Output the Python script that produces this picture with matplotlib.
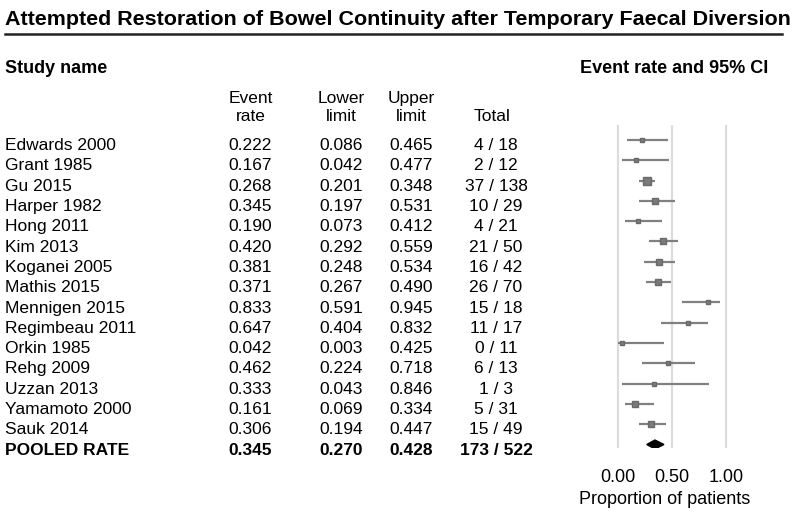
import matplotlib
matplotlib.use("Agg")
import matplotlib.pyplot as plt
import matplotlib.transforms as mtransforms
import numpy as np

plt.rcParams['font.family'] = ['Liberation Sans', 'DejaVu Sans']

# data
studies = ["Edwards 2000", "Grant 1985", "Gu 2015", "Harper 1982", "Hong 2011",
           "Kim 2013", "Koganei 2005", "Mathis 2015", "Mennigen 2015",
           "Regimbeau 2011", "Orkin 1985", "Rehg 2009", "Uzzan 2013",
           "Yamamoto 2000", "Sauk 2014"]
rate = [0.222, 0.167, 0.268, 0.345, 0.190, 0.420, 0.381, 0.371, 0.833,
        0.647, 0.042, 0.462, 0.333, 0.161, 0.306]
lower = [0.086, 0.042, 0.201, 0.197, 0.073, 0.292, 0.248, 0.267, 0.591,
         0.404, 0.003, 0.224, 0.043, 0.069, 0.194]
upper = [0.465, 0.477, 0.348, 0.531, 0.412, 0.559, 0.534, 0.490, 0.945,
         0.832, 0.425, 0.718, 0.846, 0.334, 0.447]
events = [4, 2, 37, 10, 4, 21, 16, 26, 15, 11, 0, 6, 1, 5, 15]
totals = [18, 12, 138, 29, 21, 50, 42, 70, 18, 17, 11, 13, 3, 31, 49]

pooled_name = "POOLED RATE"
pooled_rate, pooled_lower, pooled_upper = 0.345, 0.270, 0.428
pooled_events, pooled_total = 173, 522

ticks = [0.0, 0.5, 1.0]
tick_labels = ["0.00", "0.50", "1.00"]

W, H = 800, 514
fig = plt.figure(figsize=(W / 100, H / 100), dpi=100)


def fx(px):
    return px / W


def fy(py):
    return 1 - py / H


# forest panel, pixel geometry: 0 -> 617.5, 1 -> 726
x0, unit = 617.5, 108.5
ax_l, ax_r, ax_t, ax_b = 595, 749, 125, 448
row0, step = 140, 20.3
ax = fig.add_axes([fx(ax_l), fy(ax_b), (ax_r - ax_l) / W, (ax_b - ax_t) / H])
ax.set_xlim((ax_l - x0) / unit, (ax_r - x0) / unit)
ax.set_ylim((ax_b - row0) / step, (ax_t - row0) / step)
for s in ax.spines.values():
    s.set_visible(False)
ax.set_yticks([])
for t in ticks:
    ax.axvline(t, color="#dcdcdc", lw=1.6, zorder=0)
ax.set_xticks(ticks)
ax.set_xticklabels(tick_labels, fontsize=13)
ax.tick_params(axis="x", length=0, pad=15)

n = len(studies)
ys = np.arange(n)
tot = np.array(totals)
msize = (3.0 + 4.5 * np.sqrt(tot / tot.max())) * 0.72
ax.hlines(ys, lower, upper, color="#808080", lw=1.6, zorder=2)
for y, r, m in zip(ys, rate, msize):
    ax.plot(r, y, marker="s", ms=m, color="#7a7a7a", mec="#6a6a6a", zorder=3)

# pooled diamond
yp = n
dh = 0.22
ax.fill([pooled_lower, pooled_rate, pooled_upper, pooled_rate],
        [yp, yp - dh, yp, yp + dh], color="black", zorder=3)

fig.text(fx(665), fy(504), "Proportion of patients", fontsize=13,
         ha="center", va="baseline")

# title and underline
fig.text(fx(5), fy(25), "Attempted Restoration of Bowel Continuity after Temporary Faecal Diversion",
         fontsize=15.45, fontweight="bold", ha="left", va="baseline")
fig.add_artist(plt.Line2D([fx(5), fx(782)], [fy(34), fy(34)], color="#222222", lw=1.8))

fig.text(fx(5), fy(73), "Study name", fontsize=13, fontweight="bold",
         ha="left", va="baseline")
fig.text(fx(768), fy(73), "Event rate and 95% CI", fontsize=13,
         fontweight="bold", ha="right", va="baseline")

# column headers
col_x = {"rate": 250, "lower": 340, "upper": 410, "total": 495}
hdr = [("rate", "Event", "rate"), ("lower", "Lower", "limit"),
       ("upper", "Upper", "limit")]
for key, a, b in hdr:
    fig.text(fx(col_x[key] + 1), fy(103), a, fontsize=12.5, ha="center", va="baseline")
    fig.text(fx(col_x[key] + 1), fy(121), b, fontsize=12.5, ha="center", va="baseline")
fig.text(fx(col_x["total"] - 3), fy(121), "Total", fontsize=12.5, ha="center", va="baseline")

# table rows, y in forest data coords
tf = mtransforms.blended_transform_factory(fig.transFigure, ax.transData)
off = 0.5
for i in range(n):
    y = i + off
    fig.text(fx(5), y, studies[i], transform=tf, fontsize=12.5, ha="left", va="baseline")
    fig.text(fx(col_x["rate"]), y, f"{rate[i]:.3f}", transform=tf, fontsize=12.5, ha="center", va="baseline")
    fig.text(fx(col_x["lower"] + 1), y, f"{lower[i]:.3f}", transform=tf, fontsize=12.5, ha="center", va="baseline")
    fig.text(fx(col_x["upper"] + 1), y, f"{upper[i]:.3f}", transform=tf, fontsize=12.5, ha="center", va="baseline")
    fig.text(fx(col_x["total"] + 1), y, f"{events[i]} / {totals[i]}", transform=tf, fontsize=12.5, ha="center", va="baseline")

y = n + off
kw = dict(transform=tf, fontsize=12.5, fontweight="bold", va="baseline")
fig.text(fx(5), y, pooled_name, ha="left", **kw)
fig.text(fx(col_x["rate"]), y, f"{pooled_rate:.3f}", ha="center", **kw)
fig.text(fx(col_x["lower"] + 1), y, f"{pooled_lower:.3f}", ha="center", **kw)
fig.text(fx(col_x["upper"] + 1), y, f"{pooled_upper:.3f}", ha="center", **kw)
fig.text(fx(col_x["total"] + 1), y, f"{pooled_events} / {pooled_total}", ha="center", **kw)

fig.savefig("out.png", dpi=100)
